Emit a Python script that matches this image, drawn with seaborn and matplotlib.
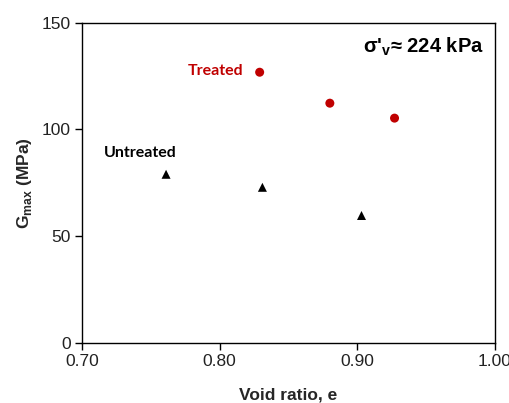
import matplotlib
matplotlib.use("Agg")
import matplotlib.pyplot as plt
import seaborn as sns
import pandas as pd

treated_e = [0.829, 0.880, 0.927]
treated_g = [126.8, 112.3, 105.3]
untreated_e = [0.761, 0.831, 0.903]
untreated_g = [79.0, 72.9, 59.7]

x_ticks = [0.70, 0.80, 0.90, 1.00]
y_ticks = [0, 50, 100, 150]

df = pd.DataFrame({
    "e": treated_e + untreated_e,
    "G": treated_g + untreated_g,
    "group": ["Treated"] * len(treated_e) + ["Untreated"] * len(untreated_e),
})

sns.set_theme(style="white")
plt.rcParams['font.family'] = ['Liberation Sans', 'DejaVu Sans']
plt.rcParams['mathtext.fontset'] = 'custom'
plt.rcParams['mathtext.rm'] = 'Liberation Sans:bold'
plt.rcParams['mathtext.bf'] = 'Liberation Sans:bold'

fig = plt.figure(figsize=(5.10, 4.03), dpi=100)
ax = fig.add_axes([0.161, 0.149, 0.8096, 0.7947])

sns.scatterplot(data=df, x="e", y="G", hue="group", style="group",
                palette={"Treated": "#C00000", "Untreated": "black"},
                markers={"Treated": "o", "Untreated": "^"},
                s=42, edgecolor="none", legend=False, ax=ax)

ax.set_xlim(0.70, 1.00)
ax.set_ylim(0, 150)
ax.set_xticks(x_ticks)
ax.set_xticklabels([f"{v:.2f}" for v in x_ticks])
ax.set_yticks(y_ticks)
ax.tick_params(axis="both", direction="out", length=5, width=1, color="black",
               labelsize=12.5, labelcolor="#222222", bottom=True, left=True, pad=3)
for s in ax.spines.values():
    s.set_color("black")
    s.set_linewidth(1)

ax.set_xlabel("Void ratio, e", fontsize=12.5, fontweight="bold", labelpad=13)
ax.set_ylabel(r"G$_\mathregular{max}$ (MPa)", fontsize=12.5, fontweight="bold", labelpad=6)

ax.text(0.817, 127.6, "Treated", color="#C00000", fontsize=11.5, fontweight="bold",
        family=["Lato", "DejaVu Sans"], ha="right", va="center")
ax.text(0.742, 88.8, "Untreated", color="black", fontsize=11.5, fontweight="bold",
        family=["Lato", "DejaVu Sans"], ha="center", va="center")
ax.text(0.992, 138.8, r"σ'$_\mathregular{v}$≈ 224 kPa", color="black", fontsize=14.5,
        fontweight="bold", ha="right", va="center")

fig.savefig("out.png", dpi=100)
